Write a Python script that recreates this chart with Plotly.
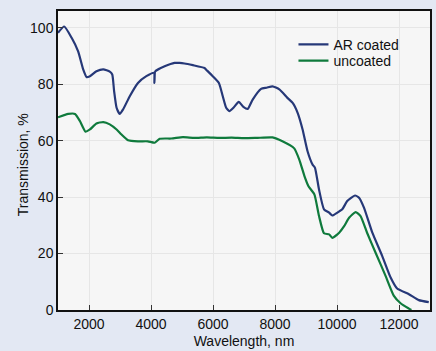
import plotly.graph_objects as go

ar_wl = [1000, 1200, 1440, 1650, 1815, 1920, 2030, 2240, 2460, 2670, 2750, 2810, 2890, 2990, 3100,
         3315, 3580, 3850, 4095, 4110, 4125, 4140, 4170, 4440, 4760, 4920, 5080, 5350, 5725, 5780, 5990,
         6190, 6315, 6425, 6530, 6660, 6830, 6980, 7120, 7280, 7550, 7730, 7920, 8140, 8400,
         8570, 8730, 8890, 9050, 9210, 9290, 9420, 9580, 9745, 9850, 10010, 10170, 10330,
         10580, 10710, 10870, 11140, 11460, 11730, 11940, 12320, 12640, 12960]
ar_t = [98.3, 100.5, 96.5, 91.7, 85.2, 82.6, 82.9, 84.6, 85.3, 84.5, 83.5, 77.6, 71.7, 69.5, 71.1,
        75.8, 80.5, 82.9, 84.1, 80.5, 84.3, 84.6, 84.9, 86.4, 87.6, 87.6, 87.4, 86.8, 85.8, 85.2, 82.9,
        80.5, 75.8, 71.7, 70.5, 71.7, 73.8, 72.0, 71.3, 74.6, 78.4, 78.8, 79.3, 78.2, 75.2,
        73.4, 69.9, 64.0, 56.3, 51.6, 50.4, 42.7, 35.7, 34.5, 33.5, 34.5, 35.7, 38.6,
        40.6, 39.8, 36.3, 27.4, 19.1, 11.5, 7.6, 5.6, 3.5, 2.8]

un_wl = [1000, 1330, 1550, 1710, 1890, 2030, 2240, 2460, 2670, 2890, 3050, 3260, 3580, 3900, 4120,
         4280, 4655, 5030, 5400, 5800, 6200, 6600, 7000, 7400, 7920, 8240, 8620,
         8780, 8950, 9080, 9270, 9420, 9580, 9745, 9850, 10070, 10230, 10390, 10600, 10760,
         10970, 11245, 11570, 11835, 12050, 12320, 12400]
un_t = [68.3, 69.5, 69.5, 66.9, 63.2, 64.0, 66.1, 66.6, 65.8, 64.0, 62.2, 60.2, 59.8, 59.8, 59.3,
        60.7, 60.8, 61.3, 61.0, 61.2, 61.0, 61.1, 60.9, 61.0, 61.2, 59.8, 57.3,
        53.4, 47.5, 43.9, 41.0, 33.3, 27.2, 26.8, 25.6, 27.4, 29.7, 32.7, 34.7, 33.3,
        27.4, 20.3, 12.0, 5.0, 2.4, 0.5, 0.0]

x_ticks = [2000, 4000, 6000, 8000, 10000, 12000]
x_tick_text = ["2000", "4000", "6000", "8000", "10000", "12000"]
y_ticks = [0, 20, 40, 60, 80, 100]

FONT = "Liberation Sans, Arial"

fig = go.Figure()
fig.add_trace(go.Scatter(x=ar_wl, y=ar_t, mode="lines", name="AR coated", legend="legend",
                         line=dict(color="#263878", width=2.2, shape="spline", smoothing=0.5)))
fig.add_trace(go.Scatter(x=un_wl, y=un_t, mode="lines", name="uncoated", legend="legend2",
                         line=dict(color="#0f7a3c", width=2.2, shape="spline", smoothing=0.5)))

axis_common = dict(showline=True, linecolor="#111111", linewidth=1.5, mirror=True,
                   ticks="inside", ticklen=5, tickcolor="#333333",
                   showgrid=True, gridcolor="#e6e6e6", gridwidth=1, zeroline=False,
                   tickfont=dict(family=FONT, size=14, color="#111111"))

leg_common = dict(xanchor="left", yanchor="middle", bgcolor="rgba(0,0,0,0)",
                  font=dict(family=FONT, size=14, color="#111111"), itemwidth=30)

fig.update_layout(
    width=436, height=351,
    margin=dict(l=58, r=4, t=11, b=40),
    paper_bgcolor="#e3e8f3",
    plot_bgcolor="#f6f6f6",
    font=dict(family=FONT, size=14, color="#111111"),
    showlegend=True,
    legend=dict(x=0.633, y=0.887, **leg_common),
    legend2=dict(x=0.633, y=0.833, **leg_common),
    xaxis=dict(range=[1000, 13000], tickvals=x_ticks, ticktext=x_tick_text,
               title=dict(text="Wavelength, nm", font=dict(size=14), standoff=6), **axis_common),
    yaxis=dict(range=[0, 106], tickvals=y_ticks, **axis_common),
    annotations=[dict(text="Transmission, %", xref="paper", yref="paper", x=-0.092, y=0.487,
                      textangle=-90, showarrow=False, xanchor="center", yanchor="middle",
                      font=dict(family=FONT, size=14, color="#111111"))],
)

fig.write_html("out.html")
